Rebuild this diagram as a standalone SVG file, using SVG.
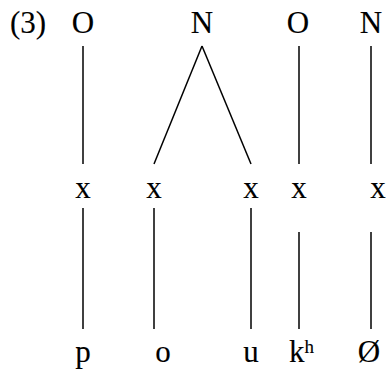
<svg xmlns="http://www.w3.org/2000/svg" width="388" height="374" viewBox="0 0 388 374" font-family="Liberation Serif" font-size="31">
<style>
text{fill:#000;stroke:#000;stroke-width:0.12;text-anchor:middle}
.lbl{text-anchor:start}
line{stroke:#000;stroke-width:1.5;fill:none}
</style>
<rect width="388" height="374" fill="#fff"/>
<text class="lbl" x="10" y="33" font-family="Liberation Serif">(3)</text>
<g id="n-O1"><text x="83" y="33" font-family="Liberation Serif">O</text></g>
<g id="n-N1"><text x="202" y="33" font-family="Liberation Serif">N</text></g>
<g id="n-O2"><text x="298" y="33" font-family="Liberation Serif">O</text></g>
<g id="n-N2"><text x="371" y="33" font-family="Liberation Serif">N</text></g>
<g id="x1"><text x="83" y="198" font-family="Liberation Serif">x</text></g>
<g id="x2"><text x="154" y="198" font-family="Liberation Serif">x</text></g>
<g id="x3"><text x="251" y="198" font-family="Liberation Serif">x</text></g>
<g id="x4"><text x="299" y="198" font-family="Liberation Serif">x</text></g>
<g id="x5"><text x="378" y="198" font-family="Liberation Serif">x</text></g>
<g id="s-p"><text x="83" y="362" font-family="Liberation Serif">p</text></g>
<g id="s-o"><text x="163" y="362" font-family="Liberation Serif">o</text></g>
<g id="s-u"><text x="251" y="362" font-family="Liberation Serif">u</text></g>
<g id="s-kh"><text class="lbl" x="289" y="362" font-family="Liberation Serif">k<tspan font-size="19" dy="-9">h</tspan></text></g>
<g id="s-null"><text x="369" y="362" font-family="Liberation Serif">Ø</text></g>
<g id="connectors">
<line x1="83" y1="46" x2="83" y2="164"/>
<line x1="202" y1="46" x2="154" y2="164"/>
<line x1="202" y1="46" x2="251" y2="164"/>
<line x1="299" y1="46" x2="299" y2="164"/>
<line x1="371" y1="46" x2="371" y2="164"/>
<line x1="83" y1="208" x2="83" y2="329"/>
<line x1="154" y1="208" x2="154" y2="329"/>
<line x1="251" y1="208" x2="251" y2="329"/>
<line x1="299" y1="232" x2="299" y2="329"/>
<line x1="371" y1="232" x2="371" y2="329"/>
</g>
</svg>
